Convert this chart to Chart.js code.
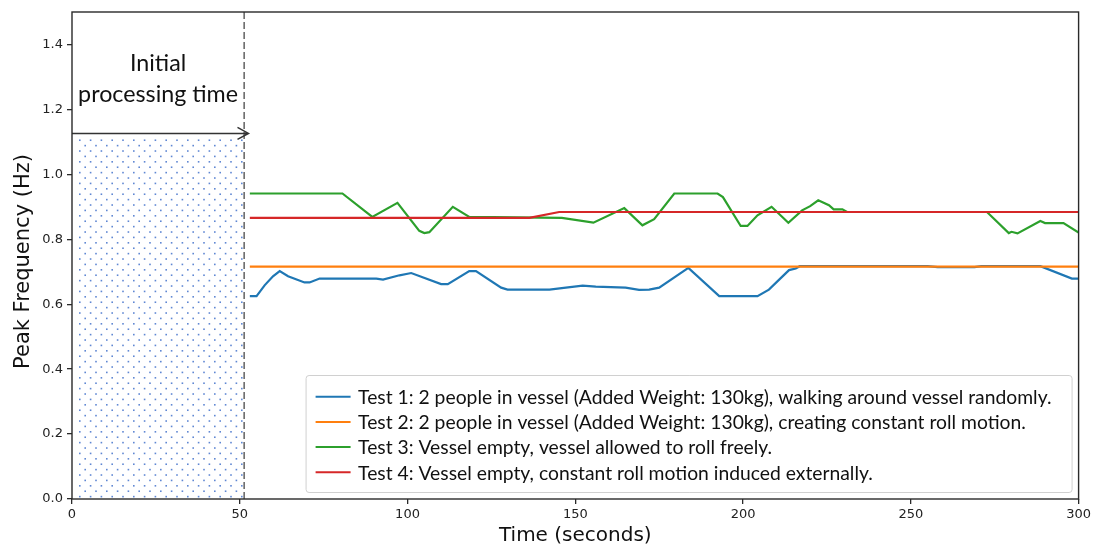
<!DOCTYPE html>
<html>
<head>
<meta charset="utf-8">
<script src="https://cdn.jsdelivr.net/npm/chart.js@4/dist/chart.umd.min.js"></script>
<style>
  html, body { margin: 0; padding: 0; background: #fff; }
  #wrap { width: 1094px; height: 548px; }
</style>
</head>
<body>
<div id="wrap"><canvas id="c" width="1094" height="548"></canvas></div>
<script>
// Peak frequency traces (time in seconds, frequency in Hz)
const test1Time = [53, 55, 57.4, 59.9, 61.9, 64.4, 69.3, 70.8, 73.8, 90.7, 92.7, 97.6, 101.1, 110, 112, 118.4, 120.4, 127.9, 129.8, 142.3, 147.2, 152.2, 156.1, 165, 169, 172, 175, 183.7, 192.9, 204.3, 207.7, 213.7, 215.7, 216.9, 255, 258, 269, 271, 288.6, 298, 300];
const test1Freq = [0.625, 0.625, 0.658, 0.686, 0.702, 0.686, 0.667, 0.667, 0.679, 0.679, 0.676, 0.689, 0.696, 0.662, 0.662, 0.702, 0.702, 0.651, 0.645, 0.645, 0.651, 0.657, 0.654, 0.651, 0.644, 0.645, 0.651, 0.712, 0.625, 0.625, 0.645, 0.705, 0.710, 0.717, 0.717, 0.714, 0.714, 0.717, 0.717, 0.679, 0.679];

const test2Time = [53, 300];
const test2Freq = [0.716, 0.716];

const test3Time = [53, 80.6, 89.5, 97, 103.5, 105, 106.5, 113.5, 118.4, 146, 155.4, 164.6, 170, 173.5, 179.5, 192.4, 194, 199.3, 201.3, 204.3, 208.5, 213.5, 217.6, 220, 222.4, 225.6, 227, 229.6, 231, 272.7, 279.2, 280, 281.8, 288.6, 290, 295.5, 300];
const test3Freq = [0.941, 0.941, 0.869, 0.912, 0.826, 0.819, 0.822, 0.900, 0.869, 0.866, 0.851, 0.896, 0.843, 0.862, 0.941, 0.941, 0.930, 0.841, 0.841, 0.874, 0.900, 0.851, 0.889, 0.902, 0.920, 0.905, 0.892, 0.892, 0.884, 0.884, 0.819, 0.823, 0.818, 0.856, 0.850, 0.850, 0.821];

const test4Time = [53, 136.3, 145.2, 300];
const test4Freq = [0.866, 0.866, 0.884, 0.884];

const seriesLabels = [
  'Test 1: 2 people in vessel (Added Weight: 130kg), walking around vessel randomly.',
  'Test 2: 2 people in vessel (Added Weight: 130kg), creating constant roll motion.',
  'Test 3: Vessel empty, vessel allowed to roll freely.',
  'Test 4: Vessel empty, constant roll motion induced externally.'
];
const seriesColors = ['#1f77b4', '#ff7f0e', '#2ca02c', '#d62728'];

const xTickValues = [0, 50, 100, 150, 200, 250, 300];
const yTickValues = [0, 0.2, 0.4, 0.6, 0.8, 1.0, 1.2, 1.4];

// Start-up window annotation
const processingEnd = 51.3;
const arrowLevel = 1.126;
const arrowTip = 52.6;
const annotationLines = ['Initial', 'processing time'];

const xTitle = 'Time (seconds)';
const yTitle = 'Peak Frequency (Hz)';

const series = [
  [test1Time, test1Freq],
  [test2Time, test2Freq],
  [test3Time, test3Freq],
  [test4Time, test4Freq]
];

const datasets = series.map(([t, f], i) => ({
  label: seriesLabels[i],
  data: t.map((x, k) => ({ x, y: f[k] })),
  borderColor: seriesColors[i],
  backgroundColor: seriesColors[i],
  borderWidth: 2.2,
  pointRadius: 0,
  tension: 0,
  fill: false,
  order: series.length - i   // later series drawn on top
}));

const textFont = 'Lato, "Open Sans", sans-serif';
const axisFont = '"DejaVu Sans", sans-serif';

function fitFont(ctx, text, width, family) {
  ctx.font = '100px ' + family;
  return 100 * width / ctx.measureText(text).width;
}

// Dotted start-up window, dashed boundary, arrow and caption
const startupWindow = {
  id: 'startupWindow',
  beforeDatasetsDraw(chart) {
    const { ctx, chartArea: a, scales: { x, y } } = chart;
    const x0 = x.getPixelForValue(0);
    const x1 = x.getPixelForValue(processingEnd);
    const yTop = y.getPixelForValue(arrowLevel);
    const yBot = y.getPixelForValue(0);
    ctx.save();
    ctx.fillStyle = 'rgba(55,105,200,0.8)';
    let row = 0;
    for (let py = yTop + 6; py < yBot; py += 5.4, row++) {
      const off = (row % 2) ? 5.4 : 0;
      for (let px = x0 + 7 + off; px < x1 - 1; px += 10.8) {
        ctx.fillRect(px, py, 1.6, 1.6);
      }
    }
    // dashed boundary
    ctx.strokeStyle = '#4a4a4a';
    ctx.lineWidth = 1.3;
    ctx.setLineDash([7, 3]);
    ctx.beginPath();
    ctx.moveTo(x1, a.top);
    ctx.lineTo(x1, a.bottom);
    ctx.stroke();
    ctx.setLineDash([]);
    // arrow
    const tip = x.getPixelForValue(arrowTip);
    ctx.strokeStyle = '#333';
    ctx.lineWidth = 1.5;
    ctx.beginPath();
    ctx.moveTo(x0, yTop);
    ctx.lineTo(tip, yTop);
    ctx.moveTo(tip - 11, yTop - 6);
    ctx.lineTo(tip, yTop);
    ctx.lineTo(tip - 11, yTop + 6);
    ctx.stroke();
    // caption
    const cx = (x0 + x1) / 2;
    const size = fitFont(ctx, annotationLines[1], 160, textFont);
    ctx.font = size + 'px ' + textFont;
    ctx.fillStyle = '#111';
    ctx.textAlign = 'center';
    ctx.textBaseline = 'middle';
    ctx.fillText(annotationLines[0], cx, y.getPixelForValue(1.34));
    ctx.fillText(annotationLines[1], cx, y.getPixelForValue(1.245));
    ctx.restore();
  },
  afterDatasetsDraw(chart) {
    const { ctx, chartArea: a } = chart;
    ctx.save();
    // frame
    ctx.strokeStyle = '#2a2a2a';
    ctx.lineWidth = 1.4;
    ctx.strokeRect(a.left, a.top, a.right - a.left, a.bottom - a.top);

    // legend
    const w = 766, h = 117;
    const lx = a.right - 7 - w, ly = a.bottom - 7 - h;
    ctx.fillStyle = 'rgba(255,255,255,0.9)';
    ctx.strokeStyle = '#d0d0d0';
    ctx.lineWidth = 1;
    ctx.beginPath();
    ctx.roundRect(lx + 0.5, ly + 0.5, w, h, 3);
    ctx.fill();
    ctx.stroke();
    const size = fitFont(ctx, seriesLabels[0], 694, textFont);
    ctx.font = size + 'px ' + textFont;
    ctx.textAlign = 'left';
    ctx.textBaseline = 'middle';
    seriesLabels.forEach((lab, i) => {
      const ry = ly + 21.7 + i * 25.2;
      ctx.strokeStyle = seriesColors[i];
      ctx.lineWidth = 2;
      ctx.beginPath();
      ctx.moveTo(lx + 10, ry);
      ctx.lineTo(lx + 45, ry);
      ctx.stroke();
      ctx.fillStyle = '#111';
      ctx.fillText(lab, lx + 52.5, ry + 1);
    });
    ctx.restore();
  },
  afterDraw(chart) {
    const { ctx, chartArea: a } = chart;
    ctx.save();
    ctx.fillStyle = '#111';
    ctx.textAlign = 'center';
    ctx.textBaseline = 'middle';
    ctx.font = '20px ' + axisFont;
    ctx.fillText(xTitle, (a.left + a.right) / 2, 536);
    ctx.font = '21px ' + axisFont;
    ctx.translate(24, (a.top + a.bottom) / 2 + 6);
    ctx.rotate(-Math.PI / 2);
    ctx.fillText(yTitle, 0, 0);
    ctx.restore();
  }
};

const tickFont = { family: 'DejaVu Sans', size: 13 };

new Chart(document.getElementById('c'), {
  type: 'line',
  data: { datasets },
  options: {
    responsive: false,
    devicePixelRatio: 1,
    animation: false,
    layout: { padding: { top: 12, right: 14, left: 0, bottom: 0 } },
    plugins: { legend: { display: false }, tooltip: { enabled: false } },
    scales: {
      x: {
        type: 'linear',
        min: 0, max: 300,
        afterBuildTicks: s => { s.ticks = xTickValues.map(v => ({ value: v })); },
        afterFit: s => { s.height = 49; },
        ticks: { font: tickFont, color: '#222', padding: 3, maxRotation: 0, autoSkip: false, callback: v => String(v) },
        grid: { drawOnChartArea: false, drawTicks: true, tickLength: 5, tickColor: '#2a2a2a', lineWidth: 1.3 },
        border: { display: false }
      },
      y: {
        type: 'linear',
        min: 0, max: 1.5,
        afterBuildTicks: s => { s.ticks = yTickValues.map(v => ({ value: v })); },
        afterFit: s => { s.width = 72; },
        ticks: { font: tickFont, color: '#222', padding: 4, autoSkip: false, callback: v => v.toFixed(1) },
        grid: { drawOnChartArea: false, drawTicks: true, tickLength: 5, tickColor: '#2a2a2a', lineWidth: 1.3 },
        border: { display: false }
      }
    }
  },
  plugins: [startupWindow]
});
</script>
</body>
</html>
